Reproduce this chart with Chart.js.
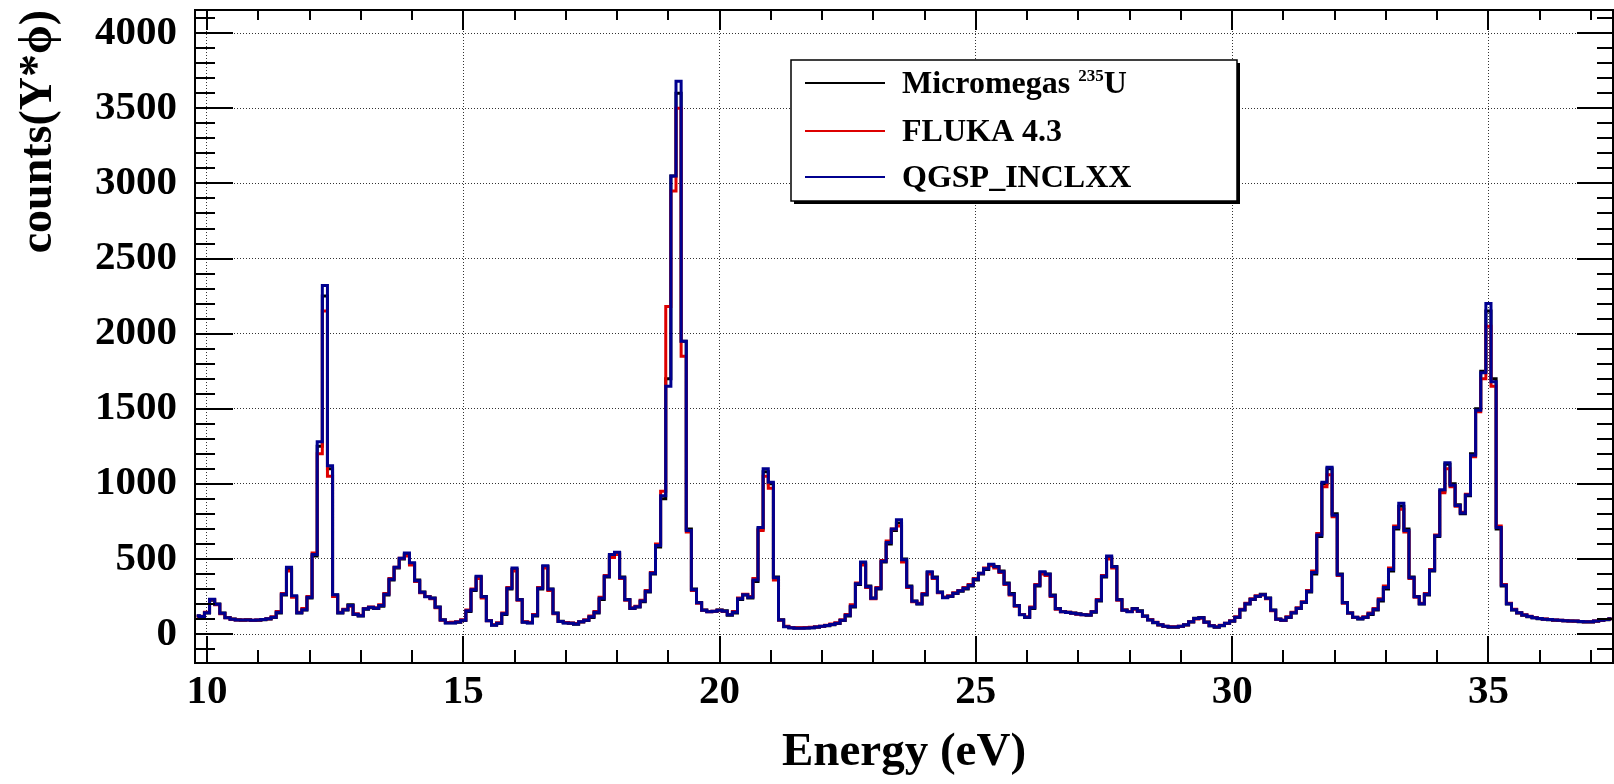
<!DOCTYPE html>
<html>
<head>
<meta charset="utf-8">
<title>counts vs Energy</title>
<script src="https://cdn.jsdelivr.net/npm/chart.js@4"></script>
<style>
  html, body { margin: 0; padding: 0; background: #fff; }
  canvas { display: block; }
</style>
</head>
<body>
<canvas id="spectrum" width="1614" height="784"></canvas>
<script>
// histogram binning (0.1 eV bins, centres 9.8 ... 37.4)
const nBins = 277, eLow = 9.75, binWidth = 0.1;

const xTicks = [10, 15, 20, 25, 30, 35];
const yTicks = [0, 500, 1000, 1500, 2000, 2500, 3000, 3500, 4000];

const seriesLabels = ['Micromegas ^{235}U', 'FLUKA 4.3', 'QGSP_INCLXX'];

// Micromegas 235U measurement
const micromegas = [
  120, 115,
  140, 225, 200, 140, 110, 100, 95, 92, 95, 90,
  92, 95, 100, 110, 140, 260, 430, 250, 140, 160,
  240, 520, 1250, 2250, 1100, 260, 140, 160, 195, 130,
  120, 165, 175, 170, 185, 260, 360, 440, 500, 530,
  470, 360, 280, 250, 240, 180, 95, 75, 75, 78,
  90, 150, 290, 380, 250, 90, 60, 70, 130, 300,
  430, 230, 80, 75, 120, 300, 450, 300, 140, 85,
  75, 72, 65, 80, 90, 110, 140, 230, 380, 520,
  540, 380, 230, 170, 180, 215, 280, 400, 580, 900,
  1700, 3050, 3600, 1950, 700, 300, 210, 160, 150, 150,
  160, 155, 125, 140, 230, 260, 240, 350, 700, 1080,
  1000, 380, 95, 50, 42, 40, 40, 40, 42, 45,
  50, 55, 62, 70, 90, 120, 180, 330, 470, 320,
  240, 300, 480, 600, 690, 740, 500, 320, 220, 200,
  260, 410, 380, 280, 245, 250, 270, 285, 300, 320,
  360, 400, 430, 460, 450, 420, 340, 270, 190, 130,
  110, 170, 320, 410, 400, 260, 170, 150, 145, 140,
  135, 130, 125, 145, 220, 380, 510, 450, 230, 160,
  150, 170, 155, 120, 95, 75, 60, 50, 45, 45,
  50, 60, 80, 105, 110, 80, 55, 45, 55, 70,
  85, 110, 160, 200, 230, 250, 265, 240, 160, 100,
  90, 110, 140, 170, 210, 280, 400, 650, 1000, 1100,
  800, 400, 210, 140, 110, 100, 110, 130, 160, 220,
  300, 420, 700, 850, 700, 380, 250, 200, 260, 420,
  650, 950, 1130, 1000, 860, 800, 920, 1200, 1500, 1750,
  2150, 1700, 700, 320, 200, 160, 140, 125, 115, 108,
  102, 98, 95, 92, 90, 88, 86, 85, 82, 80,
  80, 85, 90, 95, 100
];

// FLUKA 4.3 simulation
const fluka = [
  118, 118,
  145, 230, 195, 135, 108, 98, 93, 94, 93, 92,
  94, 96, 102, 115, 150, 270, 420, 245, 145, 170,
  250, 540, 1200, 2150, 1050, 250, 145, 165, 185, 135,
  125, 170, 180, 175, 195, 270, 370, 445, 505, 520,
  460, 350, 275, 250, 235, 175, 92, 76, 78, 82,
  95, 160, 300, 370, 240, 88, 62, 75, 140, 310,
  420, 225, 82, 78, 130, 310, 440, 290, 135, 84,
  76, 74, 70, 82, 95, 120, 150, 245, 390, 510,
  530, 370, 225, 175, 185, 225, 290, 410, 600, 950,
  2180, 2950, 3500, 1850, 680, 290, 205, 158, 148, 152,
  158, 150, 130, 150, 240, 265, 250, 370, 690, 1050,
  970, 360, 92, 52, 44, 42, 42, 43, 45, 48,
  52, 58, 66, 75, 95, 130, 195, 340, 460, 310,
  235, 310, 490, 620, 700, 720, 480, 310, 215, 205,
  270, 400, 370, 275, 245, 255, 275, 290, 310, 330,
  370, 405, 440, 455, 440, 410, 330, 260, 185, 130,
  115, 180, 330, 400, 390, 250, 165, 148, 145, 138,
  132, 128, 128, 150, 230, 390, 500, 440, 225, 160,
  150, 165, 150, 118, 95, 78, 62, 52, 48, 48,
  52, 62, 82, 100, 105, 78, 56, 48, 58, 72,
  88, 115, 165, 205, 235, 255, 260, 235, 155, 98,
  92, 115, 145, 175, 215, 290, 420, 670, 980, 1060,
  780, 390, 205, 140, 112, 105, 115, 140, 170, 235,
  320, 440, 720, 830, 680, 370, 245, 205, 270, 430,
  660, 940, 1100, 980, 850, 810, 930, 1180, 1480, 1700,
  2050, 1650, 720, 330, 205, 165, 142, 128, 118, 110,
  104, 100, 96, 93, 91, 89, 87, 86, 84, 82,
  82, 86, 92, 96, 102
];

// Geant4 QGSP_INCLXX simulation
const inclxx = [
  122, 116,
  142, 232, 198, 138, 109, 99, 94, 93, 94, 91,
  93, 96, 101, 112, 145, 265, 445, 255, 142, 162,
  245, 530, 1280, 2320, 1120, 262, 142, 162, 190, 132,
  122, 168, 178, 172, 190, 265, 365, 445, 505, 540,
  475, 355, 278, 248, 238, 178, 93, 74, 74, 80,
  92, 155, 295, 385, 248, 89, 59, 72, 135, 305,
  440, 228, 79, 74, 125, 305, 455, 298, 138, 84,
  74, 71, 66, 81, 92, 115, 145, 238, 385, 530,
  545, 375, 228, 172, 182, 220, 285, 405, 590, 920,
  1650, 3050, 3680, 1950, 690, 295, 208, 158, 149, 151,
  159, 152, 128, 145, 235, 262, 245, 360, 710, 1100,
  1010, 375, 93, 49, 41, 39, 39, 40, 42, 46,
  51, 56, 64, 72, 92, 125, 185, 335, 480, 315,
  238, 305, 485, 610, 700, 760, 495, 315, 218, 202,
  265, 415, 375, 278, 242, 252, 272, 288, 305, 325,
  365, 405, 435, 465, 448, 415, 335, 265, 188, 128,
  112, 175, 325, 415, 398, 255, 168, 148, 143, 138,
  133, 128, 126, 148, 225, 385, 520, 448, 228, 158,
  148, 168, 152, 119, 94, 76, 61, 51, 46, 46,
  51, 61, 81, 103, 108, 79, 55, 46, 56, 71,
  86, 112, 162, 202, 232, 252, 262, 238, 158, 99,
  91, 112, 142, 172, 212, 285, 410, 660, 1010, 1110,
  790, 395, 208, 140, 111, 102, 112, 135, 165, 228,
  310, 430, 710, 870, 690, 375, 248, 202, 265, 425,
  655, 960, 1140, 990, 855, 805, 925, 1190, 1490, 1740,
  2200, 1680, 710, 325, 202, 162, 141, 126, 116, 109,
  103, 99, 96, 93, 91, 89, 87, 86, 83, 81,
  81, 86, 91, 96, 101
];

const binCentre = i => +(eLow + (i + 0.5) * binWidth).toFixed(2);
const toPoints = arr => arr.map((v, i) => ({ x: binCentre(i), y: v }));

const FONT = '"Liberation Serif", "Times New Roman", serif';

// ROOT style frame with inward ticks on all four sides
const frameAndTicks = {
  id: 'frameAndTicks',
  afterDatasetsDraw(chart) {
    const { ctx, chartArea: a, scales: { x, y } } = chart;
    ctx.save();
    ctx.strokeStyle = '#000';
    ctx.lineWidth = 2;
    ctx.beginPath();
    for (let v = Math.ceil(x.min); v <= x.max; v++) {
      const px = Math.round(x.getPixelForValue(v));
      const major = v % 5 === 0;
      ctx.moveTo(px, a.bottom); ctx.lineTo(px, a.bottom - (major ? 27 : 13));
      ctx.moveTo(px, a.top); ctx.lineTo(px, a.top + (major ? 20 : 10));
    }
    for (let v = Math.ceil(y.min / 100) * 100; v <= y.max; v += 100) {
      const py = Math.round(y.getPixelForValue(v));
      const major = v % 500 === 0;
      ctx.moveTo(a.left, py); ctx.lineTo(a.left + (major ? 38 : 20), py);
      ctx.moveTo(a.right, py); ctx.lineTo(a.right - (major ? 36 : 16), py);
    }
    ctx.stroke();
    ctx.strokeRect(a.left, a.top, a.right - a.left, a.bottom - a.top);
    ctx.restore();
  },
  afterDraw(chart) {
    // legend box with shadow
    const { ctx } = chart;
    const box = { x: 791, y: 60, w: 446, h: 141 };
    const rows = [83, 131, 177];
    ctx.save();
    ctx.fillStyle = '#000';
    ctx.fillRect(box.x + 3, box.y + 3, box.w, box.h);
    ctx.fillStyle = '#fff';
    ctx.fillRect(box.x, box.y, box.w, box.h);
    ctx.strokeStyle = '#000';
    ctx.lineWidth = 1.5;
    ctx.strokeRect(box.x, box.y, box.w, box.h);

    chart.data.datasets.forEach((ds, i) => {
      const ry = rows[i];
      ctx.strokeStyle = ds.borderColor;
      ctx.lineWidth = 2;
      ctx.beginPath();
      ctx.moveTo(805, ry); ctx.lineTo(885, ry);
      ctx.stroke();

      // label text, ^{..} rendered as superscript
      ctx.fillStyle = '#000';
      ctx.textBaseline = 'alphabetic';
      let tx = 902;
      const parts = ds.label.split(/(\^\{[^}]*\})/).filter(Boolean);
      parts.forEach(p => {
        if (p.startsWith('^{')) {
          ctx.font = 'bold 17px ' + FONT;
          const s = p.slice(2, -1);
          ctx.fillText(s, tx, ry - 2);
          tx += ctx.measureText(s).width;
        } else {
          ctx.font = 'bold 32px ' + FONT;
          ctx.fillText(p, tx, ry + 10);
          tx += ctx.measureText(p).width;
        }
      });
    });
    ctx.restore();
  }
};

const lineStyle = { stepped: 'middle', pointRadius: 0, borderWidth: 3, fill: false, tension: 0 };

new Chart(document.getElementById('spectrum'), {
  type: 'line',
  data: {
    datasets: [
      { label: seriesLabels[0], data: toPoints(micromegas), borderColor: '#000000', order: 3, ...lineStyle },
      { label: seriesLabels[1], data: toPoints(fluka), borderColor: '#dd0000', order: 2, ...lineStyle },
      { label: seriesLabels[2], data: toPoints(inclxx), borderColor: '#00008f', order: 1, ...lineStyle }
    ]
  },
  options: {
    responsive: false,
    animation: false,
    devicePixelRatio: 1,
    layout: { padding: { top: 10, right: 1, left: 0, bottom: 0 } },
    plugins: { legend: { display: false }, tooltip: { enabled: false } },
    scales: {
      x: {
        type: 'linear',
        min: 9.766,
        max: 37.43,
        afterBuildTicks: s => { s.ticks = xTicks.map(v => ({ value: v })); },
        afterFit: s => { s.height = 121; s.paddingLeft = 0; s.paddingRight = 0; },
        ticks: {
          autoSkip: false, maxRotation: 0, padding: 5, color: '#000',
          font: { family: FONT, size: 41, weight: 'bold' },
          callback: v => String(v)
        },
        grid: { drawTicks: false, color: '#333', lineWidth: 1 },
        border: { display: false, dash: [1, 2] },
        title: {
          display: true, text: 'Energy (eV)', color: '#000',
          font: { family: FONT, size: 47, weight: 'bold' },
          padding: { top: 0, bottom: 3 }
        }
      },
      y: {
        type: 'linear',
        min: -193,
        max: 4155,
        afterBuildTicks: s => { s.ticks = yTicks.map(v => ({ value: v })); },
        afterFit: s => { s.width = 195; s.paddingTop = 0; s.paddingBottom = 0; },
        ticks: {
          padding: 18, color: '#000',
          font: { family: FONT, size: 41, weight: 'bold' },
          callback: v => String(v)
        },
        grid: { drawTicks: false, color: '#333', lineWidth: 1 },
        border: { display: false, dash: [1, 2] },
        title: {
          display: true, text: 'counts(Y*ϕ)', color: '#000', align: 'end',
          font: { family: FONT, size: 46, weight: 'bold' },
          padding: { top: 12, bottom: 0 }
        }
      }
    }
  },
  plugins: [frameAndTicks]
});
</script>
</body>
</html>
